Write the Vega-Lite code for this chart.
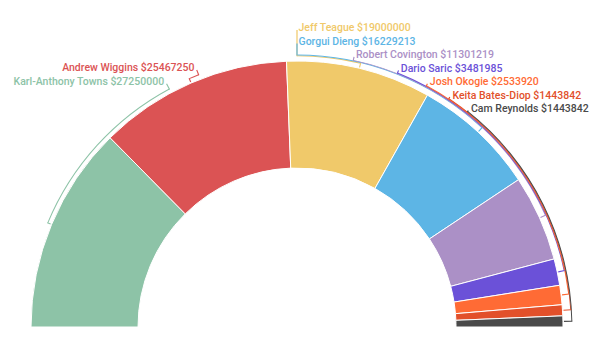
{
  "$schema": "https://vega.github.io/schema/vega-lite/v6.json",
  "width": 594,
  "height": 327,
  "autosize": {"type": "none"},
  "padding": {"left": 0, "top": 0, "right": 19, "bottom": 20},
  "background": "#ffffff",
  "config": {"view": {"stroke": null}, "text": {"font": "Roboto"}},
  "data": {"values": [
    {"name": "Karl-Anthony Towns", "value": 27250000},
    {"name": "Andrew Wiggins", "value": 25467250},
    {"name": "Jeff Teague", "value": 19000000},
    {"name": "Gorgui Dieng", "value": 16229213},
    {"name": "Robert Covington", "value": 11301219},
    {"name": "Dario Saric", "value": 3481985},
    {"name": "Josh Okogie", "value": 2533920},
    {"name": "Keita Bates-Diop", "value": 1443842},
    {"name": "Cam Reynolds", "value": 1443842}
  ]},
  "transform": [
    {"window": [{"op": "row_number", "as": "rn"}, {"op": "sum", "field": "value", "as": "cum"}], "frame": [null, 0]},
    {"joinaggregate": [{"op": "sum", "field": "value", "as": "total"}]},
    {"calculate": "(datum.cum - datum.value) / datum.total * 180 - 90", "as": "a0"},
    {"calculate": "datum.cum / datum.total * 180 - 90", "as": "a1"},
    {"calculate": "(datum.a0 + datum.a1) / 2", "as": "mid"},
    {"calculate": "datum.mid < 0 ? 1 : 0", "as": "isLeft"},
    {"joinaggregate": [{"op": "sum", "field": "isLeft", "as": "nLeft"}]},
    {"calculate": "datum.isLeft ? 68 + 14 * (datum.nLeft - datum.rn) : 28 + 13.5 * (datum.rn - datum.nLeft - 1)", "as": "ly"},
    {"calculate": "327 - datum.ly", "as": "dy"},
    {"calculate": "datum.dy < 278 ? (datum.isLeft ? -1 : 1) * acos(datum.dy / 278) * 180 / PI : 0", "as": "lth"},
    {"calculate": "datum.dy < 278 ? 278 : datum.dy", "as": "lr"},
    {"calculate": "datum.lr - 2", "as": "lt"},
    {"calculate": "269.5 + 0.6 * datum.rn", "as": "cr"},
    {"calculate": "datum.cr + 0.5", "as": "cro"},
    {"calculate": "datum.cr - 0.5", "as": "cri"},
    {"calculate": "min(datum.mid, datum.lth)", "as": "c0"},
    {"calculate": "max(datum.mid, datum.lth)", "as": "c1"},
    {"calculate": "datum.mid - 0.12", "as": "m0"},
    {"calculate": "datum.mid + 0.12", "as": "m1"},
    {"calculate": "datum.lth - 0.12", "as": "t0"},
    {"calculate": "datum.lth + 0.12", "as": "t1"},
    {"calculate": "datum.name + ' $' + datum.value", "as": "label"}
  ],
  "encoding": {
    "color": {
      "field": "name", "type": "nominal", "legend": null,
      "scale": {
        "domain": ["Karl-Anthony Towns", "Andrew Wiggins", "Jeff Teague", "Gorgui Dieng", "Robert Covington", "Dario Saric", "Josh Okogie", "Keita Bates-Diop", "Cam Reynolds"],
        "range": ["#8dc3a7", "#db5354", "#f0c96a", "#5db5e5", "#ab90c6", "#6b51d8", "#ff6b35", "#e2502a", "#4a4a4a"]
      }
    }
  },
  "layer": [
    {
      "mark": {"type": "arc", "outerRadius": 266, "innerRadius": 159, "stroke": "#ffffff", "strokeWidth": 1, "x": {"expr": "width/2"}, "y": "height"},
      "encoding": {
        "theta": {"field": "a0", "type": "quantitative", "stack": null, "scale": {"domain": [-90, 90], "range": [-1.5707963, 1.5707963]}},
        "theta2": {"field": "a1"}
      }
    },
    {
      "mark": {"type": "arc", "x": {"expr": "width/2"}, "y": "height"},
      "encoding": {
        "theta": {"field": "c0", "type": "quantitative", "stack": null, "scale": {"domain": [-90, 90], "range": [-1.5707963, 1.5707963]}},
        "theta2": {"field": "c1"},
        "radius": {"field": "cro", "type": "quantitative", "scale": null},
        "radius2": {"field": "cri"}
      }
    },
    {
      "mark": {"type": "arc", "innerRadius": 267, "x": {"expr": "width/2"}, "y": "height"},
      "encoding": {
        "theta": {"field": "m0", "type": "quantitative", "stack": null, "scale": {"domain": [-90, 90], "range": [-1.5707963, 1.5707963]}},
        "theta2": {"field": "m1"},
        "radius": {"field": "cro", "type": "quantitative", "scale": null}
      }
    },
    {
      "mark": {"type": "arc", "x": {"expr": "width/2"}, "y": "height"},
      "encoding": {
        "theta": {"field": "t0", "type": "quantitative", "stack": null, "scale": {"domain": [-90, 90], "range": [-1.5707963, 1.5707963]}},
        "theta2": {"field": "t1"},
        "radius": {"field": "lt", "type": "quantitative", "scale": null},
        "radius2": {"field": "cri"}
      }
    },
    {
      "transform": [{"filter": "datum.isLeft == 0"}],
      "mark": {"type": "text", "align": "left", "baseline": "middle", "dx": 1.5, "fontSize": 10.5, "fontWeight": 500, "x": {"expr": "width/2"}, "y": "height"},
      "encoding": {
        "theta": {"field": "lth", "type": "quantitative", "stack": null, "scale": {"domain": [-90, 90], "range": [-1.5707963, 1.5707963]}},
        "radius": {"field": "lr", "type": "quantitative", "scale": null},
        "text": {"field": "label", "type": "nominal"}
      }
    },
    {
      "transform": [{"filter": "datum.isLeft == 1"}],
      "mark": {"type": "text", "align": "right", "baseline": "middle", "dx": -1.5, "fontSize": 10.5, "fontWeight": 500, "x": {"expr": "width/2"}, "y": "height"},
      "encoding": {
        "theta": {"field": "lth", "type": "quantitative", "stack": null, "scale": {"domain": [-90, 90], "range": [-1.5707963, 1.5707963]}},
        "radius": {"field": "lr", "type": "quantitative", "scale": null},
        "text": {"field": "label", "type": "nominal"}
      }
    }
  ]
}
